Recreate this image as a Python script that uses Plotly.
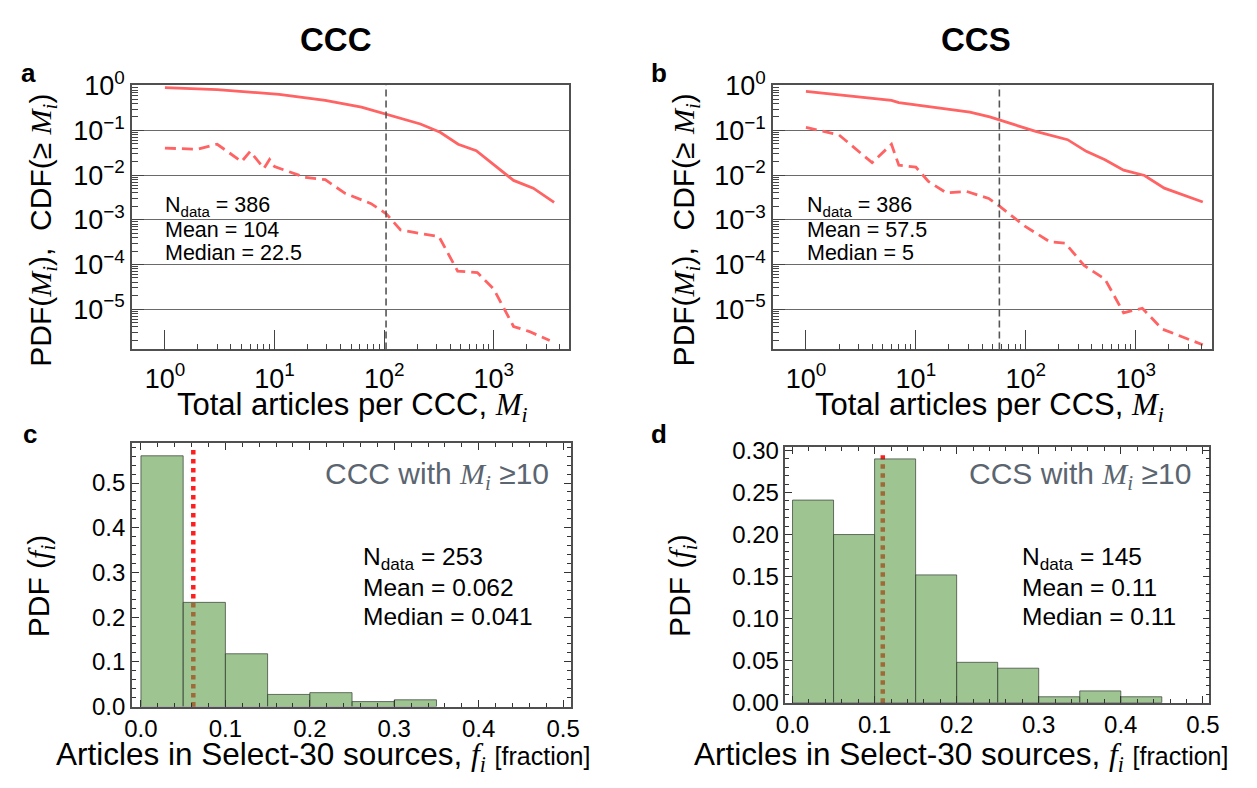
import plotly.graph_objects as go

# ---------------- data ----------------
ccc_cdf_M = [1, 3, 11, 29, 62, 104, 151, 214, 324, 473, 692, 1047, 1514, 2291, 3548]
ccc_cdf = [0.91, 0.82, 0.64, 0.47, 0.33, 0.23, 0.175, 0.139, 0.091, 0.049, 0.035, 0.0155, 0.0076, 0.0051, 0.00245]

ccc_pdf_M = [1, 2, 3, 5, 6, 8, 9, 10, 19, 29, 44, 76, 105, 141, 316, 468, 708, 1000, 1514, 2089, 3236]
ccc_pdf = [0.040, 0.038, 0.049, 0.020, 0.034, 0.0141, 0.0224, 0.0155, 0.0089, 0.0079, 0.0039, 0.0023,
           0.00135, 0.00059, 0.00042, 7.1e-5, 6.6e-5, 2.8e-5, 4.1e-6, 3.2e-6, 2.0e-6]

ccs_cdf_M = [1, 2, 6, 7, 12, 31, 47, 71, 123, 240, 355, 525, 776, 1202, 1820, 4074]
ccs_cdf = [0.75, 0.62, 0.47, 0.42, 0.355, 0.257, 0.20, 0.145, 0.095, 0.062, 0.034, 0.022, 0.0129, 0.0098, 0.0051, 0.0025]

ccs_pdf_M = [1, 2, 4, 6, 7, 10, 13, 19, 29, 46, 58, 98, 166, 229, 339, 525, 776, 1148, 1738, 4074]
ccs_pdf = [0.117, 0.079, 0.019, 0.049, 0.0166, 0.0151, 0.0072, 0.0040, 0.0043, 0.0030, 0.0020, 0.00072,
           0.00032, 0.00030, 9.5e-5, 4.7e-5, 8.3e-6, 1.05e-5, 3.6e-6, 1.6e-6]

ccc_mean_M = 104
ccs_mean_M = 57.5

ccc_bin_centers = [0.025, 0.075, 0.125, 0.175, 0.225, 0.275, 0.325]
ccc_frac = [0.561, 0.233, 0.118, 0.027, 0.031, 0.011, 0.015]
ccc_mean_f = 0.062

ccs_bin_centers = [0.025, 0.075, 0.125, 0.175, 0.225, 0.275, 0.325, 0.375, 0.425]
ccs_frac = [0.241, 0.200, 0.290, 0.152, 0.048, 0.041, 0.007, 0.014, 0.007]
ccs_mean_f = 0.11
bin_width = 0.05

log_tickvals_x = [1, 10, 100, 1000]
log_ticktext_x = ["10<sup>0</sup>", "10<sup>1</sup>", "10<sup>2</sup>", "10<sup>3</sup>"]
log_tickvals_y = [1, 0.1, 0.01, 0.001, 0.0001, 0.00001]
log_ticktext_y = ["10<sup>0</sup>", "10<sup>\u22121</sup>", "10<sup>\u22122</sup>",
                  "10<sup>\u22123</sup>", "10<sup>\u22124</sup>", "10<sup>\u22125</sup>"]

stats_ccc_top = ["N<sub>data</sub> = 386", "Mean = 104", "Median = 22.5"]
stats_ccs_top = ["N<sub>data</sub> = 386", "Mean = 57.5", "Median = 5"]
stats_ccc_bot = ["N<sub>data</sub> = 253", "Mean = 0.062", "Median = 0.041"]
stats_ccs_bot = ["N<sub>data</sub> = 145", "Mean = 0.11", "Median = 0.11"]

# ---------------- style ----------------
W, H = 1257, 788
FONT = "Liberation Sans, Arial, Helvetica, sans-serif"
SERIF = "Liberation Serif, Times New Roman, serif"
RED = "rgb(255,99,99)"
FRAME = "#505050"
GRID = "#6a6a6a"


def px(x):
    return x / W


def py(y):
    return 1 - y / H


Mi = f'<span style="font-family:{SERIF}"><i>M</i><sub><i>i</i></sub></span>'
fi = f'<span style="font-family:{SERIF}"><i>f</i><sub><i>i</i></sub></span>'

fig = go.Figure()

# top panels
for xa, ya, cM, cV, pM, pV in [("x", "y", ccc_cdf_M, ccc_cdf, ccc_pdf_M, ccc_pdf),
                               ("x2", "y2", ccs_cdf_M, ccs_cdf, ccs_pdf_M, ccs_pdf)]:
    fig.add_trace(go.Scatter(x=cM, y=cV, mode="lines", line=dict(color=RED, width=2.8),
                             xaxis=xa, yaxis=ya, showlegend=False, hoverinfo="skip"))
    fig.add_trace(go.Scatter(x=pM, y=pV, mode="lines", line=dict(color=RED, width=2.8, dash="11px,6px"),
                             xaxis=xa, yaxis=ya, showlegend=False, hoverinfo="skip"))

# bottom panels
for xa, ya, bc, fr in [("x3", "y3", ccc_bin_centers, ccc_frac), ("x4", "y4", ccs_bin_centers, ccs_frac)]:
    fig.add_trace(go.Bar(x=bc, y=fr, width=bin_width, xaxis=xa, yaxis=ya, showlegend=False,
                         marker=dict(color="rgba(93,157,72,0.6)",
                                     line=dict(color="rgba(60,70,60,0.75)", width=1)),
                         hoverinfo="skip"))

minor_log_x = [m * 10 ** k for k in range(0, 4) for m in range(2, 10)]
minor_log_y = [m * 10.0 ** k for k in range(-6, 0) for m in range(2, 10)]


def log_x(domain, anchor):
    return dict(domain=domain, type="log", range=[-0.30, 3.69], tickmode="array", anchor=anchor,
                tickvals=log_tickvals_x, ticktext=log_ticktext_x, ticks="inside", ticklen=20,
                tickwidth=1, tickcolor="#444", ticklabelstandoff=4,
                minor=dict(tickmode="array", tickvals=minor_log_x, ticks="inside", ticklen=6,
                           tickcolor="#444", tickwidth=1, showgrid=False),
                showline=True, linecolor=FRAME, linewidth=1.5, mirror=True, showgrid=False,
                zeroline=False, tickfont=dict(size=27, color="black", family=FONT))


def log_y(domain, anchor):
    return dict(domain=domain, type="log", range=[-5.9, 0.01], tickmode="array",
                tickvals=log_tickvals_y, ticktext=log_ticktext_y, ticks="inside", ticklen=12,
                tickwidth=1, tickcolor="#444", anchor=anchor,
                minor=dict(tickmode="array", tickvals=minor_log_y, ticks="inside", ticklen=6,
                           tickcolor="#444", tickwidth=1, showgrid=False),
                showline=True, linecolor=FRAME, linewidth=1.5, mirror=True,
                showgrid=True, gridcolor=GRID, gridwidth=1.2,
                zeroline=False, tickfont=dict(size=27, color="black", family=FONT))


def lin_x(domain, rng, anchor):
    return dict(domain=domain, range=rng, dtick=0.1, tick0=0, tickformat=".1f", anchor=anchor,
                ticks="inside", ticklen=7, tickcolor="#333", tickwidth=1,
                minor=dict(dtick=0.02, ticks="inside", ticklen=4, tickcolor="#333", showgrid=False),
                showline=True, linecolor=FRAME, linewidth=1.5, mirror="ticks",
                showgrid=False, zeroline=False, tickfont=dict(size=24, color="black", family=FONT))


def lin_y(domain, rng, dt, mdt, fmt, anchor):
    return dict(domain=domain, range=rng, dtick=dt, tick0=0, tickformat=fmt, anchor=anchor,
                ticks="inside", ticklen=7, tickcolor="#333", tickwidth=1,
                minor=dict(dtick=mdt, ticks="inside", ticklen=4, tickcolor="#333", showgrid=False),
                showline=True, linecolor=FRAME, linewidth=1.5, mirror="ticks",
                showgrid=False, zeroline=False, tickfont=dict(size=24, color="black", family=FONT))


xa1 = log_x([px(124), px(568.5)], "y")
xa2 = log_x([px(775.3), px(1221)], "y2")
ya1 = log_y([py(345), py(70)], "x")
ya2 = log_y([py(345), py(70)], "x2")
xa3 = lin_x([px(123.8), px(569.8)], [-0.0108, 0.509], "y3")
ya3 = lin_y([py(716.7), py(442.7)], [0, 0.589], 0.1, 0.02, ".1f", "x3")
xa4 = lin_x([px(788), px(1218.8)], [-0.0086, 0.508], "y4")
ya4 = lin_y([py(712.7), py(446.7)], [0, 0.304], 0.05, 0.01, ".2f", "x4")

shapes = [
    dict(type="line", xref="x", yref="y domain", x0=ccc_mean_M, x1=ccc_mean_M, y0=0, y1=1,
         line=dict(color="#555", width=1.6, dash="7px,4px")),
    dict(type="line", xref="x2", yref="y2 domain", x0=ccs_mean_M, x1=ccs_mean_M, y0=0, y1=1,
         line=dict(color="#555", width=1.6, dash="7px,4px")),
    dict(type="line", xref="x3", yref="y3 domain", x0=ccc_mean_f, x1=ccc_mean_f, y0=0, y1=0.98,
         layer="below", line=dict(color="rgb(255,30,30)", width=4.5, dash="dot")),
    dict(type="line", xref="x4", yref="y4 domain", x0=ccs_mean_f, x1=ccs_mean_f, y0=0, y1=0.975,
         layer="below", line=dict(color="rgb(255,30,30)", width=4.5, dash="dot")),
]

ann = []


def add(text, x, y, size, xanchor="center", yanchor="middle", angle=0, color="black", bold=False):
    t = f"<b>{text}</b>" if bold else text
    ann.append(dict(text=t, x=px(x), y=py(y), xref="paper", yref="paper", showarrow=False,
                    xanchor=xanchor, yanchor=yanchor, textangle=angle,
                    font=dict(size=size, color=color, family=FONT)))


# titles & panel letters
add("CCC", 331, 22, 33, bold=True)
add("CCS", 982, 22, 33, bold=True)
add("a", 19, 57, 26, bold=True)
add("b", 660, 57, 26, bold=True)
add("c", 20, 433, 26, bold=True)
add("d", 659, 433, 26, bold=True)

# axis titles
add(f"Total articles per CCC, {Mi}", 348, 405, 31)
add(f"Total articles per CCS, {Mi}", 995, 405, 31)
ytop = f"PDF({Mi}),\u00a0\u00a0CDF(\u2265 {Mi})"
add(ytop, 34, 221, 30, angle=-90)
add(ytop, 687, 221, 30, angle=-90)
xbot = f'Articles in Select-30 sources, {fi} <span style="font-size:25px">[fraction]</span>'
add(xbot, 318, 769, 31.5)
add(xbot, 966, 769, 31.5)
ybot = f"PDF ({fi})"
add(ybot, 31, 591, 30, angle=-90)
add(ybot, 683, 591, 30, angle=-90)

# stats
for i, (s1, s2) in enumerate(zip(stats_ccc_top, stats_ccs_top)):
    yy = [196, 221, 245][i]
    add(s1, 155, yy, 21.5, xanchor="left")
    add(s2, 808, yy, 21.5, xanchor="left")
for i, (s1, s2) in enumerate(zip(stats_ccc_bot, stats_ccs_bot)):
    yy = [563, 593, 623][i]
    add(s1, 357, yy, 24.5, xanchor="left")
    add(s2, 1026, yy, 24.5, xanchor="left")

add(f"CCC with {Mi} \u226510", 550, 477, 30, xanchor="right", color="#5b6570")
add(f"CCS with {Mi} \u226510", 1202, 477, 30, xanchor="right", color="#5b6570")

fig.update_layout(
    width=W, height=H, autosize=False,
    margin=dict(l=0, r=0, t=0, b=0),
    paper_bgcolor="white", plot_bgcolor="white",
    font=dict(family=FONT, color="black"),
    xaxis=xa1, yaxis=ya1, xaxis2=xa2, yaxis2=ya2,
    xaxis3=xa3, yaxis3=ya3, xaxis4=xa4, yaxis4=ya4,
    shapes=shapes, annotations=ann, showlegend=False, barmode="overlay",
)

fig.write_html("out.html", config={"displayModeBar": False},
               post_script="document.body.style.margin='0px';")
